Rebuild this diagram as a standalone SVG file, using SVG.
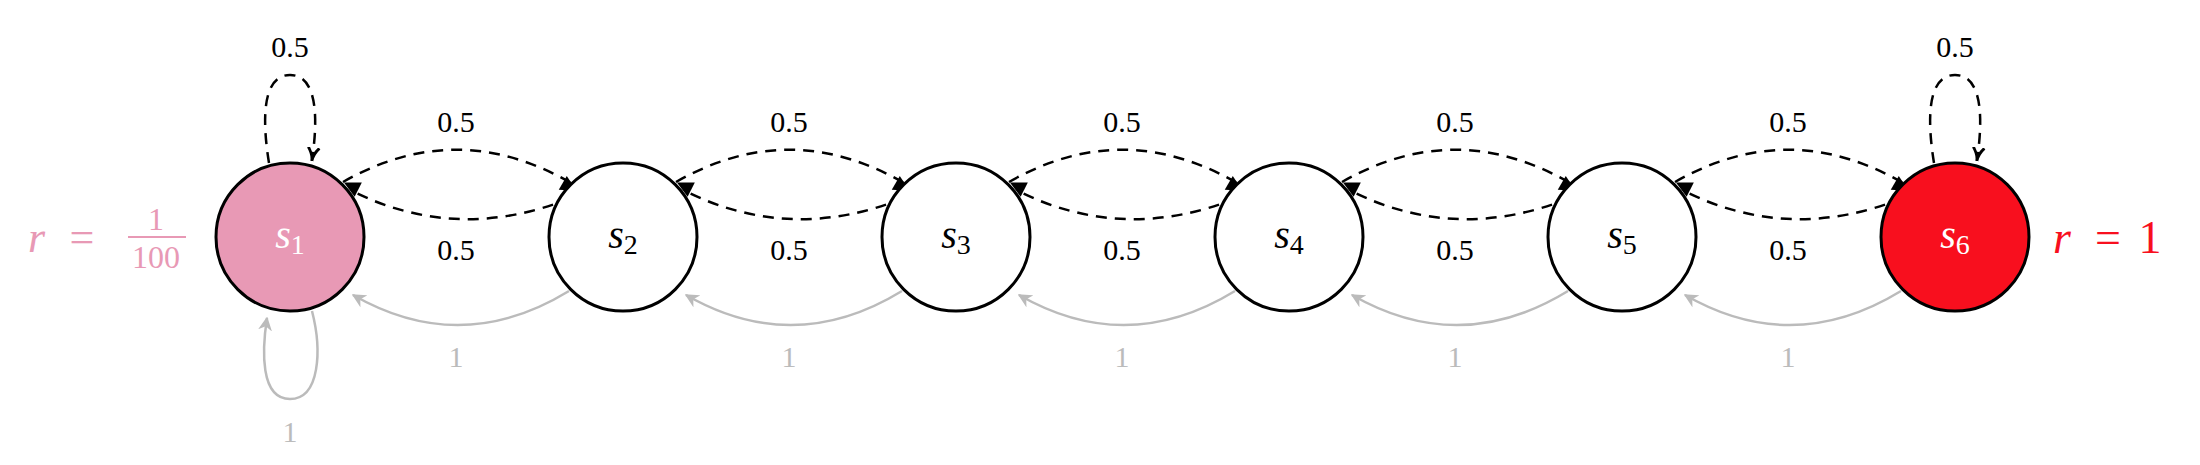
<svg xmlns="http://www.w3.org/2000/svg" width="2200" height="465" viewBox="0 0 2200 465">
<style>
.node{stroke:#000;stroke-width:3}
.lbl{font-family:"Liberation Serif",serif;font-style:italic;font-size:40px;text-anchor:middle}
.sub{font-style:normal;font-size:28px}
.num{font-family:"Liberation Serif",serif;font-size:30px;text-anchor:middle;fill:#000}
.g{font-family:"Liberation Serif",serif;font-size:30px;text-anchor:middle;fill:#bbb}
.d{fill:none;stroke:#000;stroke-width:2.5;stroke-dasharray:11 8}
.gr{fill:none;stroke:#bbb;stroke-width:2.5}
</style>
<defs>
<marker id="ab" viewBox="0 0 10 10" refX="9" refY="5" markerWidth="8" markerHeight="8" markerUnits="userSpaceOnUse" orient="auto" style="overflow:visible"><path d="M0,0 L10,5 L0,10 z" transform="scale(2)" fill="#000"/></marker>
<marker id="ao" viewBox="0 0 10 10" refX="9" refY="5" markerWidth="14" markerHeight="14" markerUnits="userSpaceOnUse" orient="auto"><path d="M0,1 Q5,5 10,5 Q5,5 0,9" fill="none" stroke="#000" stroke-width="2"/></marker>
<marker id="ag" viewBox="0 0 10 10" refX="9" refY="5" markerWidth="14" markerHeight="14" markerUnits="userSpaceOnUse" orient="auto"><path d="M0,0 L10,5 L0,10 L3,5 z" fill="#bbb"/></marker>
</defs>
<g id="connectors">
<path class="d" d="M269,163 C262,120 262,75 290,75 C318,75 318,120 312,160" marker-end="url(#ao)"/>
<path class="d" d="M1934,163 C1927,120 1927,75 1955,75 C1983,75 1983,120 1977,160" marker-end="url(#ao)"/>
<path class="gr" d="M312,311 C322,350 320,399 290,399 C260,399 262,350 267,318" marker-end="url(#ag)"/>
<g id="pairs">
<path class="d" d="M343,182 Q457,117 571,183" marker-end="url(#ab)"/>
<path class="d" d="M571,198 Q457,244 350,190" marker-end="url(#ab)"/>
<path class="gr" d="M569,291 Q461,357 353,295" marker-end="url(#ag)"/>
<path class="d" d="M676,182 Q790,117 904,183" marker-end="url(#ab)"/>
<path class="d" d="M904,198 Q790,244 683,190" marker-end="url(#ab)"/>
<path class="gr" d="M902,291 Q794,357 686,295" marker-end="url(#ag)"/>
<path class="d" d="M1009,182 Q1123,117 1237,183" marker-end="url(#ab)"/>
<path class="d" d="M1237,198 Q1123,244 1016,190" marker-end="url(#ab)"/>
<path class="gr" d="M1235,291 Q1127,357 1019,295" marker-end="url(#ag)"/>
<path class="d" d="M1342,182 Q1456,117 1570,183" marker-end="url(#ab)"/>
<path class="d" d="M1570,198 Q1456,244 1349,190" marker-end="url(#ab)"/>
<path class="gr" d="M1568,291 Q1460,357 1352,295" marker-end="url(#ag)"/>
<path class="d" d="M1675,182 Q1789,117 1903,183" marker-end="url(#ab)"/>
<path class="d" d="M1903,198 Q1789,244 1682,190" marker-end="url(#ab)"/>
<path class="gr" d="M1901,291 Q1793,357 1685,295" marker-end="url(#ag)"/>
</g>
<g id="labels">
<text class="num" x="290" y="57">0.5</text>
<text class="num" x="1955" y="57">0.5</text>
<text class="g" x="290" y="442">1</text>
<text class="num" x="456" y="132">0.5</text><text class="num" x="456" y="260">0.5</text><text class="g" x="456" y="367">1</text>
<text class="num" x="789" y="132">0.5</text><text class="num" x="789" y="260">0.5</text><text class="g" x="789" y="367">1</text>
<text class="num" x="1122" y="132">0.5</text><text class="num" x="1122" y="260">0.5</text><text class="g" x="1122" y="367">1</text>
<text class="num" x="1455" y="132">0.5</text><text class="num" x="1455" y="260">0.5</text><text class="g" x="1455" y="367">1</text>
<text class="num" x="1788" y="132">0.5</text><text class="num" x="1788" y="260">0.5</text><text class="g" x="1788" y="367">1</text>
</g>
</g>
<g id="s1"><circle class="node" cx="290" cy="237" r="74" fill="#E899B5"/><text class="lbl" x="290" y="248" fill="#fff">s<tspan class="sub" dy="6">1</tspan></text></g>
<g id="s2"><circle class="node" cx="623" cy="237" r="74" fill="#fff"/><text class="lbl" x="623" y="248">s<tspan class="sub" dy="6">2</tspan></text></g>
<g id="s3"><circle class="node" cx="956" cy="237" r="74" fill="#fff"/><text class="lbl" x="956" y="248">s<tspan class="sub" dy="6">3</tspan></text></g>
<g id="s4"><circle class="node" cx="1289" cy="237" r="74" fill="#fff"/><text class="lbl" x="1289" y="248">s<tspan class="sub" dy="6">4</tspan></text></g>
<g id="s5"><circle class="node" cx="1622" cy="237" r="74" fill="#fff"/><text class="lbl" x="1622" y="248">s<tspan class="sub" dy="6">5</tspan></text></g>
<g id="s6"><circle class="node" cx="1955" cy="237" r="74" fill="#F80F1E"/><text class="lbl" x="1955" y="248" fill="#fff">s<tspan class="sub" dy="6">6</tspan></text></g>
<g id="reward1" fill="#E899B5" font-family="Liberation Serif, serif">
<text x="28" y="252" font-size="44" font-style="italic">r</text>
<text x="82" y="252" font-size="44" text-anchor="middle">=</text>
<text x="156" y="230" font-size="32" text-anchor="middle">1</text>
<rect x="128" y="236" width="58" height="2"/>
<text x="156" y="268" font-size="32" text-anchor="middle">100</text>
</g>
<g id="reward6" fill="#F80F1E" font-family="Liberation Serif, serif" font-size="46">
<text x="2053" y="253" font-style="italic">r</text>
<text x="2108" y="253" text-anchor="middle">=</text>
<text x="2150" y="253" text-anchor="middle">1</text>
</g>
</svg>
